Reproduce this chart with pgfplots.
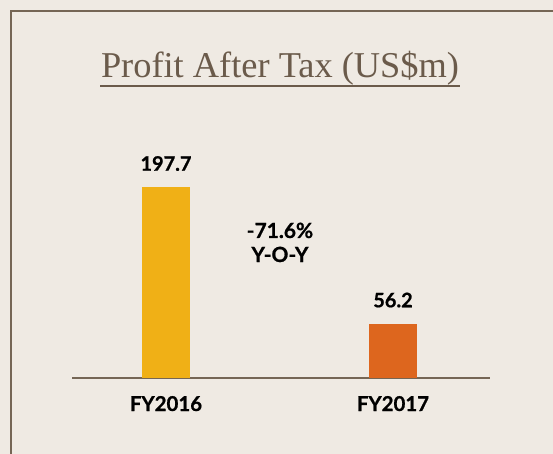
\documentclass[border=0pt]{standalone}
\usepackage{pgfplots}
\pgfplotsset{compat=1.18}
\usepackage{fontspec}
\setmainfont{Lato}[BoldFeatures={FakeBold=0.8}]
\newfontfamily\titlefont{Liberation Serif}
\definecolor{bgc}{HTML}{EFEAE3}
\definecolor{linec}{HTML}{756655}
\definecolor{titlec}{HTML}{6B5B4B}
\definecolor{fy16}{HTML}{F0B016}
\definecolor{fy17}{HTML}{DD661E}

\begin{document}
\begin{tikzpicture}
\useasboundingbox (0,0) rectangle (553bp,454bp);
\fill[bgc] (0,0) rectangle (553bp,454bp);
% frame: left and top rules only
\draw[linec, line width=2bp] (11bp,0) -- (11bp,443bp) -- (553bp,443bp);
% title with underline
\node[anchor=base, inner sep=0pt, text=titlec, font=\titlefont\fontsize{36.5}{42}\selectfont] at (280bp,376bp) {Profit After Tax (US\$m)};
\draw[titlec, line width=2bp] (100bp,368bp) -- (460bp,368bp);

\begin{axis}[
  at={(72bp,76bp)}, anchor=south west,
  scale only axis, width=418bp, height=300bp,
  xmin=-0.4141, xmax=1.4273, ymin=0, ymax=310.9,
  ybar, bar width=48bp,
  hide y axis,
  axis x line*=bottom,
  x axis line style={-, line width=2bp, color=linec},
  xtick={0,1}, xticklabels={FY2016,FY2017},
  major tick length=0pt,
  xticklabel style={anchor=base, yshift=-33bp, inner sep=0pt, font=\bfseries\fontsize{20.5}{24}\selectfont},
  nodes near coords,
  nodes near coords style={anchor=base, yshift=16.5bp, inner sep=0pt, font=\bfseries\fontsize{20}{24}\selectfont, text=black},
  /pgf/number format/.cd, fixed, precision=1, fixed zerofill, assume math mode=true,
]
\addplot[fill=fy16, draw=none, bar shift=0pt] coordinates {(0,197.7)};
\addplot[fill=fy17, draw=none, bar shift=0pt] coordinates {(1,56.2)};
\node[anchor=base, inner sep=0pt, font=\bfseries\fontsize{21}{24}\selectfont] at (axis cs:0.502,145.1) {-71.6\%};
\node[anchor=base, inner sep=0pt, font=\bfseries\fontsize{21}{24}\selectfont] at (axis cs:0.502,120.2) {Y-O-Y};
\end{axis}
\end{tikzpicture}
\end{document}
